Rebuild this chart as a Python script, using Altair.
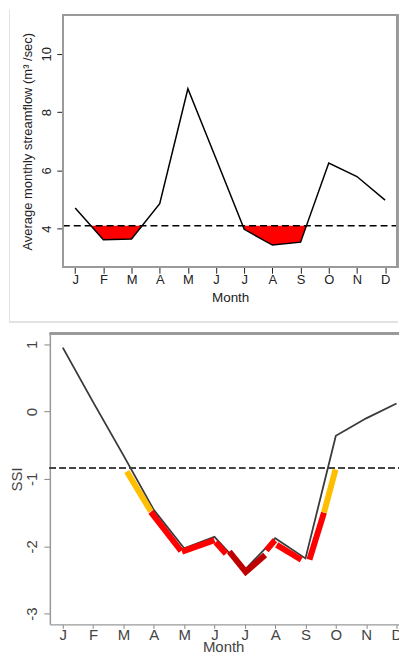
import altair as alt
import pandas as pd

months = ["J", "F", "M", "A", "M", "J", "J", "A", "S", "O", "N", "D"]
flow = [4.71, 3.62, 3.65, 4.86, 8.80, 6.40, 3.98, 3.44, 3.54, 6.25, 5.79, 4.98]
flow_threshold = 4.10
ssi = [0.95, 0.14, -0.65, -1.46, -2.03, -1.86, -2.35, -1.88, -2.18, -0.36, -0.10, 0.12]
ssi_threshold = -0.84

# drought-class overlay pieces
piece_id = [1, 1, 2, 2, 3, 3, 4, 4, 5, 5, 5, 6, 6, 7, 7, 8, 8, 9, 9]
piece_class = (["moderate"] * 2 + ["severe"] * 6 + ["extreme"] * 3
               + ["severe"] * 6 + ["moderate"] * 2)
piece_x = [3.11, 3.90, 3.90, 4.90, 4.93, 6.00, 6.04, 6.38, 6.49, 7.03, 7.67,
           7.71, 7.99, 8.05, 8.86, 9.13, 9.61, 9.61, 9.99]
piece_y = [-0.89, -1.48, -1.49, -2.07, -2.08, -1.91, -1.94, -2.11, -2.08, -2.38,
           -2.13, -2.06, -1.91, -1.98, -2.20, -2.20, -1.50, -1.50, -0.86]
class_names = ["moderate", "severe", "extreme"]
class_colors = ["#FFBF00", "#FF0000", "#C00000"]

FONT = "Liberation Sans"
xs = list(range(1, 13))
label_expr = "[" + ",".join(f"'{m}'" for m in months) + "][datum.value - 1]"

df_flow = pd.DataFrame({"x": xs, "v": flow})
df_ssi = pd.DataFrame({"x": xs, "v": ssi})
df_pieces = pd.DataFrame({"piece": piece_id, "cls": piece_class, "x": piece_x, "v": piece_y})


def below_regions(vals, thr):
    rows = []
    g = 0
    inside = False
    for i, v in enumerate(vals):
        if v < thr:
            if not inside:
                g += 1
                inside = True
                if i > 0:
                    p = vals[i - 1]
                    rows.append((g, i + (p - thr) / (p - v), thr))
            rows.append((g, i + 1, v))
        elif inside:
            p = vals[i - 1]
            rows.append((g, i + (p - thr) / (p - v), thr))
            inside = False
    return pd.DataFrame(rows, columns=["g", "x", "v"])


df_fill = below_regions(flow, flow_threshold)

# ---------------- top panel ----------------
# plot area starts 13px left of the visible frame so both panels share the concat's left edge
SHIFT = 13
W1, H1 = 349, 253
X1_LO, X1_HI = 0.56, 12.44
unit1 = (W1 - SHIFT) / (X1_HI - X1_LO)
x1_dom_lo = X1_LO - SHIFT / unit1
df_thr1 = pd.DataFrame({"x": [X1_LO], "x2": [X1_HI], "v": [flow_threshold]})

x1 = alt.X("x:Q", scale=alt.Scale(domain=[x1_dom_lo, X1_HI], nice=False, zero=False),
           axis=alt.Axis(values=xs, tickCount=12, labelExpr=label_expr, title="Month", grid=False,
                         domain=False, tickSize=6, tickColor="#222", labelFontSize=13,
                         labelColor="#222", labelBaseline="middle", labelPadding=6,
                         labelOverlap=False,
                         titleFontSize=13.5, titleColor="#222", titleX=(SHIFT + W1) / 2,
                         titleY=30, titleBaseline="middle", titleFontWeight="normal"))
y1 = alt.Y("v:Q", scale=alt.Scale(domain=[2.68, 11.32], nice=False, zero=False),
           axis=alt.Axis(values=[4, 6, 8, 10], tickCount=4,
                         title="Average monthly streamflow (m³ /sec)",
                         grid=False, domain=False, offset=-SHIFT, tickSize=6, tickColor="#222",
                         labelFontSize=13, labelColor="#222", labelAngle=-90,
                         labelAlign="center", labelBaseline="bottom", labelPadding=3,
                         labelOverlap=False,
                         titleFontSize=13, titleColor="#222", titleX=-35, titleY=H1 / 2,
                         titleAngle=-90, titleAlign="center", titleBaseline="middle",
                         titleFontWeight="normal"))

# faint frame of the upper figure (left and bottom edges)
faint_left = alt.Chart(df_flow).mark_rule(color="#e2e2e2", strokeWidth=1).encode(
    x=alt.value(-40.5), y=alt.value(-4.5), y2=alt.value(308))
faint_bottom = alt.Chart(df_flow).mark_rule(color="#e2e2e2", strokeWidth=1).encode(
    y=alt.value(308), x=alt.value(-40.5), x2=alt.value(W1 + 0.5))
box1 = alt.Chart(df_flow).mark_rect(fill="transparent", stroke="#9a9a9a", strokeWidth=1.5).encode(
    x=alt.value(SHIFT), x2=alt.value(W1), y=alt.value(0), y2=alt.value(H1))

fill = alt.Chart(df_fill).mark_area(color="#FF0000", opacity=1).encode(
    x=x1, y=y1, y2=alt.datum(flow_threshold), detail="g:N")
line1 = alt.Chart(df_flow).mark_line(color="#000", strokeWidth=1.5).encode(x=x1, y=y1)
thr1 = alt.Chart(df_thr1).mark_rule(color="#000", strokeWidth=1.5, strokeDash=[7, 4]).encode(
    x=x1, x2="x2:Q", y=y1)

top = alt.layer(faint_left, faint_bottom, fill, line1, thr1, box1).properties(
    width=W1, height=H1, view=alt.ViewBackground(stroke="transparent"))

# ---------------- bottom panel ----------------
W2, H2 = 356, 292
unit2 = (348 - 13) / 11.0
x2_lo = 1 - 13 / unit2
x2_hi = x2_lo + W2 / unit2
x2 = alt.X("x:Q", scale=alt.Scale(domain=[x2_lo, x2_hi], nice=False, zero=False),
           axis=alt.Axis(values=xs, tickCount=12, labelExpr=label_expr, title="Month", grid=False,
                         domain=True, domainColor="#999", domainWidth=1.5,
                         tickSize=4, tickColor="#888", labelFontSize=15,
                         labelColor="#444", labelBaseline="middle", labelPadding=6,
                         labelOverlap=False,
                         titleFontSize=15, titleColor="#444", titleX=174, titleY=22.5,
                         titleBaseline="middle", titleFontWeight="normal"))
y2 = alt.Y("v:Q", scale=alt.Scale(domain=[-3.16, 1.16], nice=False, zero=False),
           axis=alt.Axis(values=[-3, -2, -1, 0, 1], tickCount=5, labelExpr="'' + datum.value",
                         title="SSI", grid=False,
                         domain=True, domainColor="#999", domainWidth=1.5,
                         tickSize=6, tickColor="#888", labelFontSize=15,
                         labelColor="#444", labelAngle=-90, labelAlign="center",
                         labelBaseline="bottom", labelPadding=4, labelOverlap=False,
                         titleFontSize=15, titleColor="#444", titleX=-33.5, titleY=H2 / 2,
                         titleAngle=-90, titleAlign="center", titleBaseline="middle",
                         titleFontWeight="normal"))

frame_top = alt.Chart(df_ssi).mark_rule(color="#999", strokeWidth=1.5).encode(
    y=alt.value(0), x=alt.value(0), x2=alt.value(W2))
line2 = alt.Chart(df_ssi).mark_line(color="#3a3a3a", strokeWidth=1.8).encode(x=x2, y=y2)
thr2 = alt.Chart(df_ssi).mark_rule(color="#444", strokeWidth=1.8, strokeDash=[6, 4]).encode(
    y=alt.datum(ssi_threshold))
pieces = alt.Chart(df_pieces).mark_line(strokeWidth=6, strokeCap="butt", strokeJoin="miter").encode(
    x=x2, y=y2, detail="piece:N",
    color=alt.Color("cls:N", scale=alt.Scale(domain=class_names, range=class_colors), legend=None))

bottom = alt.layer(frame_top, thr2, line2, pieces).properties(
    width=W2, height=H2, view=alt.ViewBackground(stroke="transparent"))

# the page body is 391px wide: the right end of the lower panel is cut, as in the original
chart = alt.vconcat(top, bottom, spacing=8.5).properties(
    padding={"top": 0, "left": 0, "right": -7.5, "bottom": -3}
).configure_axis(labelFont=FONT, titleFont=FONT).configure_text(font=FONT)

chart.save("out.html", embed_options={"renderer": "svg", "actions": False})
